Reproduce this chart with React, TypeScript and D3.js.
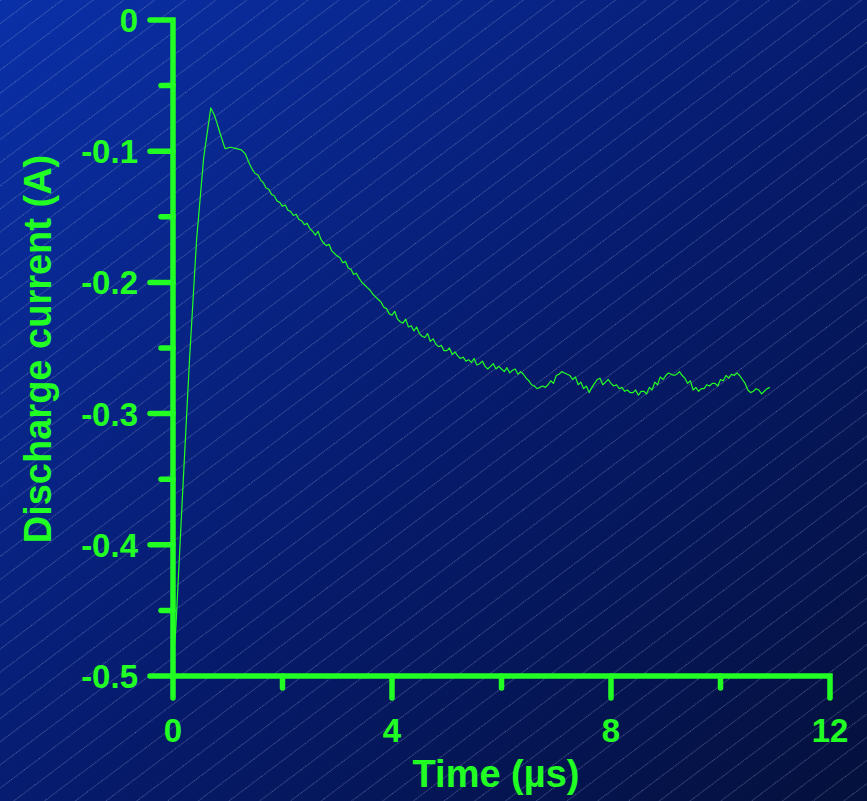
import React from "react";
import * as d3 from "d3";

const W = 867;
const H = 801;

// time (µs) and discharge current (A)
const riseTime = [0.0, 0.05, 0.17, 0.3, 0.43, 0.56, 0.69, 0.75, 0.8, 0.85, 0.95, 1.05, 1.16, 1.25, 1.32, 1.36];
const riseCurrent = [-0.49, -0.465, -0.365, -0.26, -0.168, -0.105, -0.067, -0.072, -0.078, -0.085, -0.098, -0.097, -0.098, -0.099, -0.102, -0.106];

const tailStart = 1.4;
const tailStep = 0.05;
const tailCurrent = [
  -0.110, -0.114, -0.117, -0.118, -0.122, -0.124, -0.128, -0.129, -0.133, -0.134,
  -0.138, -0.139, -0.142, -0.141, -0.145, -0.146, -0.149, -0.148, -0.152, -0.153,
  -0.156, -0.155, -0.159, -0.161, -0.164, -0.161, -0.167, -0.170, -0.172, -0.171,
  -0.176, -0.178, -0.180, -0.181, -0.185, -0.184, -0.189, -0.190, -0.194, -0.193,
  -0.197, -0.200, -0.202, -0.204, -0.206, -0.209, -0.211, -0.213, -0.215, -0.219,
  -0.220, -0.224, -0.225, -0.222, -0.228, -0.230, -0.231, -0.228, -0.234, -0.233,
  -0.237, -0.234, -0.239, -0.241, -0.242, -0.239, -0.245, -0.243, -0.247, -0.249,
  -0.248, -0.252, -0.252, -0.250, -0.255, -0.253, -0.256, -0.258, -0.257, -0.260,
  -0.259, -0.261, -0.258, -0.263, -0.262, -0.260, -0.264, -0.266, -0.264, -0.262,
  -0.266, -0.264, -0.266, -0.268, -0.265, -0.269, -0.267, -0.266, -0.270, -0.268,
  -0.270, -0.273, -0.275, -0.278, -0.279, -0.281, -0.280, -0.279, -0.280, -0.278,
  -0.275, -0.277, -0.271, -0.270, -0.268, -0.269, -0.270, -0.271, -0.274, -0.272,
  -0.278, -0.276, -0.281, -0.279, -0.284, -0.280, -0.277, -0.274, -0.273, -0.278,
  -0.276, -0.274, -0.277, -0.279, -0.278, -0.281, -0.280, -0.283, -0.282, -0.284,
  -0.284, -0.282, -0.286, -0.283, -0.283, -0.285, -0.280, -0.282, -0.276, -0.278,
  -0.272, -0.274, -0.271, -0.269, -0.270, -0.271, -0.270, -0.268, -0.271, -0.273,
  -0.277, -0.275, -0.282, -0.280, -0.283, -0.281, -0.281, -0.278, -0.279, -0.277,
  -0.277, -0.279, -0.274, -0.275, -0.271, -0.273, -0.270, -0.271, -0.269, -0.271,
  -0.274, -0.277, -0.282, -0.284, -0.283, -0.281, -0.282, -0.285, -0.283, -0.281,
  -0.280,
];

const xTicks = [0, 4, 8, 12];
const xMinorTicks = [2, 6, 10];
const yTicks = [0, -0.1, -0.2, -0.3, -0.4, -0.5];
const yMinorTicks = [-0.05, -0.15, -0.25, -0.35, -0.45];
const xLabel = "Time (\u00b5s)";
const yLabel = "Discharge current (A)";

const GREEN = "#22ff22";
const FONT = "'Liberation Sans', Arial, sans-serif";

export default function App() {
  const x = d3.scaleLinear().domain([0, 12]).range([173, 830]);
  const y = d3.scaleLinear().domain([-0.5, 0]).range([676, 20]);

  const points: [number, number][] = [];
  riseTime.forEach((t, i) => points.push([t, riseCurrent[i]]));
  tailCurrent.forEach((c, i) => points.push([tailStart + i * tailStep, c]));

  const line = d3
    .line<[number, number]>()
    .x((d) => x(d[0]))
    .y((d) => y(d[1]));

  const x0 = x(0);
  const y0 = y(-0.5);
  const fmt = (v: number) => (v === 0 ? "0" : d3.format(".1f")(v).replace("\u2212", "-"));

  return (
    <svg
      width={W}
      height={H}
      style={{ position: "absolute", left: 0, top: 0, display: "block" }}
    >
      <defs>
        <linearGradient id="bg" x1="0" y1="0" x2="1" y2="1">
          <stop offset="0%" stopColor="#0a30a8" />
          <stop offset="55%" stopColor="#061a6a" />
          <stop offset="100%" stopColor="#04103c" />
        </linearGradient>
        <pattern
          id="stripes"
          patternUnits="userSpaceOnUse"
          width="18.5"
          height="18.5"
          patternTransform="rotate(-37)"
        >
          <line x1="0" y1="0.5" x2="18.5" y2="0.5" stroke="#a8b6dc" strokeWidth="0.8" strokeDasharray="1 1" strokeOpacity="0.55" />
        </pattern>
      </defs>
      <rect width={W} height={H} fill="url(#bg)" />
      <rect width={W} height={H} fill="url(#stripes)" />

      <path d={line(points) || ""} fill="none" stroke={GREEN} strokeWidth={1.2} strokeLinejoin="round" />

      {/* axes */}
      <g stroke={GREEN} strokeWidth={5.5} fill="none">
        <path d={`M${x0 - 23},${y(0)}H${x0}V${y0 + 22}`} strokeLinejoin="miter" strokeLinecap="round" />
        <path d={`M${x0 - 23},${y0}H${x(12)}V${y0 + 22}`} strokeLinejoin="miter" strokeLinecap="round" />
      </g>
      <g stroke={GREEN} strokeWidth={5.5} strokeLinecap="round">
        {yTicks.slice(1, -1).map((v) => (
          <line key={"yt" + v} x1={x0 - 23} x2={x0} y1={y(v)} y2={y(v)} />
        ))}
        {yMinorTicks.map((v) => (
          <line key={"ym" + v} x1={x0 - 12} x2={x0} y1={y(v)} y2={y(v)} />
        ))}
        {xTicks.slice(1, -1).map((v) => (
          <line key={"xt" + v} x1={x(v)} x2={x(v)} y1={y0} y2={y0 + 22} />
        ))}
        {xMinorTicks.map((v) => (
          <line key={"xm" + v} x1={x(v)} x2={x(v)} y1={y0} y2={y0 + 12} />
        ))}
      </g>

      <g fill={GREEN} fontFamily={FONT} fontWeight="bold" fontSize={33}>
        {yTicks.map((v) => (
          <text key={"yl" + v} x={x0 - 35} y={y(v) + 12} textAnchor="end">
            {fmt(v)}
          </text>
        ))}
        {xTicks.map((v) => (
          <text key={"xl" + v} x={x(v)} y={742} textAnchor="middle">
            {String(v)}
          </text>
        ))}
      </g>
      <text
        x={496}
        y={787}
        textAnchor="middle"
        fill={GREEN}
        fontFamily={FONT}
        fontWeight="bold"
        fontSize={38}
      >
        {xLabel}
      </text>
      <text
        transform={`translate(51,349) rotate(-90)`}
        textAnchor="middle"
        fill={GREEN}
        fontFamily={FONT}
        fontWeight="bold"
        fontSize={38}
      >
        {yLabel}
      </text>
    </svg>
  );
}
